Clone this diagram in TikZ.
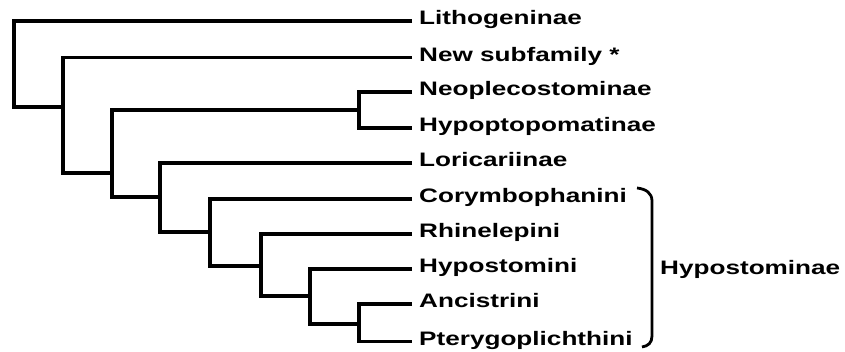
\documentclass[tikz,border=0pt]{standalone}
\usepackage{fontspec}
\usepackage{tikz}
\newfontfamily\taxonfont[FakeStretch=1.34]{Liberation Sans Bold}
\definecolor{TreeInk}{HTML}{000000}
\tikzset{
  branch/.style={draw=TreeInk,line width=3.2pt},
  bracketline/.style={draw=TreeInk,line width=2.8pt},
  taxon/.style={anchor=west,inner xsep=7pt,inner ysep=0pt,text=TreeInk,
    text height=13pt,text depth=5pt,
    font=\taxonfont\fontsize{19.5}{22}\selectfont},
  cladename/.style={taxon,inner xsep=0pt}
}
\begin{document}
\begin{tikzpicture}[x=1pt,y=-1pt]
  \useasboundingbox (0,0) rectangle (845,352);

  % terminal taxa
  \node[taxon] (litho) at (412,21) {Lithogeninae};
  \node[taxon] (newsub) at (412,57.5) {New subfamily *};
  \node[taxon] (neoplec) at (412,92) {Neoplecostominae};
  \node[taxon] (hypopto) at (412,128) {Hypoptopomatinae};
  \node[taxon] (lorica) at (412,163) {Loricariinae};
  \node[taxon] (corymb) at (412,199) {Corymbophanini};
  \node[taxon] (rhinel) at (412,234) {Rhinelepini};
  \node[taxon] (hypost) at (412,269) {Hypostomini};
  \node[taxon] (ancist) at (412,304) {Ancistrini};
  \node[taxon] (pteryg) at (412,341.5) {Pterygoplichthini};

  % internal nodes
  \coordinate (root) at (14,107);
  \coordinate (cA) at (63,107);
  \coordinate (cB) at (112,173);
  \coordinate (cNH) at (359,110);
  \coordinate (cD) at (160,197);
  \coordinate (cE) at (210,232);
  \coordinate (cF) at (261,266);
  \coordinate (cG) at (310,296);
  \coordinate (cH) at (359,324);

  \draw[branch] (litho.west) -| (root) |- (cA);
  \draw[branch] (newsub.west) -| (cA) |- (cB);
  \draw[branch] (cNH) -| (cB) |- (cD);
  \draw[branch] (neoplec.west) -| (cNH) |- (hypopto.west);
  \draw[branch] (lorica.west) -| (cD) |- (cE);
  \draw[branch] (corymb.west) -| (cE) |- (cF);
  \draw[branch] (rhinel.west) -| (cF) |- (cG);
  \draw[branch] (hypost.west) -| (cG) |- (cH);
  \draw[branch] (ancist.west) -| (cH) |- (pteryg.west);

  % subfamily bracket
  \node[cladename] (hypostominae) at (660,271) {Hypostominae};
  \coordinate (brtop) at (637,188);
  \coordinate (brbot) at (642,347);
  \draw[bracketline] (brtop) .. controls (646,189) and (652,193) .. (652,201)
    -- (652,336) .. controls (652,343) and (648,346) .. (brbot);
\end{tikzpicture}
\end{document}
